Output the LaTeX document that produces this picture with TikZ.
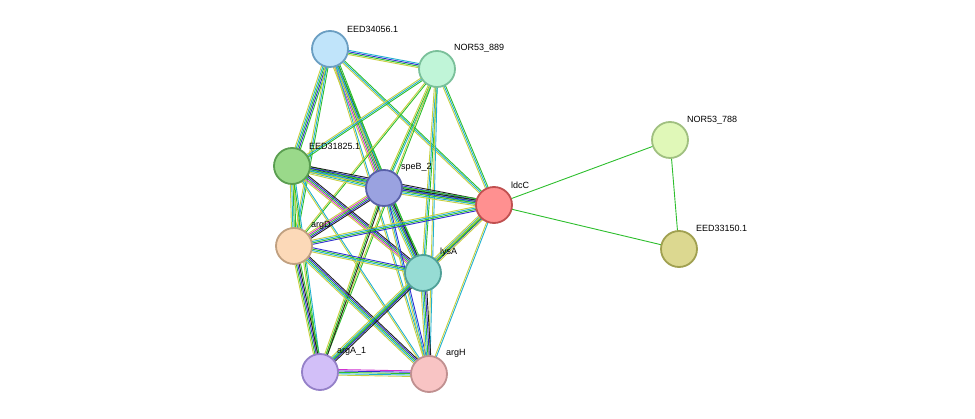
\documentclass[tikz,border=0pt]{standalone}
\usepackage{fontspec}
\setmainfont{Liberation Sans}
\usetikzlibrary{calc}
\definecolor{cg}{HTML}{2DBE2D}
\definecolor{cb}{HTML}{3030D0}
\definecolor{cc}{HTML}{20B0D0}
\definecolor{cy}{HTML}{C8D040}
\definecolor{ck}{HTML}{202020}
\definecolor{cmag}{HTML}{D030D0}
\newcommand\sedge[3]{%
  \foreach \c [count=\i] in {#3}{\xdef\nn{\i}}%
  \foreach \c [count=\i] in {#3}{%
    \pgfmathsetmacro\o{(\i-1)*1.4-(\nn-1)*0.7}%
    \draw[color=\c,line width=0.9pt] ($(#1)!\o pt!90:(#2)$) -- ($(#2)!\o pt!-90:(#1)$);}}
\tikzset{nd/.style={circle,minimum size=36pt,line width=1.8pt,inner sep=0pt},
 lb/.style={font=\fontsize{9}{10}\selectfont,anchor=south west,inner sep=1pt}}
\begin{document}
\begin{tikzpicture}[x=1pt,y=-1pt]
\useasboundingbox (0,0) rectangle (975,419);
\coordinate (a) at (330,49);
\coordinate (b) at (437,69);
\coordinate (c) at (292,166);
\coordinate (d) at (384,188);
\coordinate (e) at (494,205);
\coordinate (f) at (294,246);
\coordinate (g) at (423,273);
\coordinate (h) at (320,372);
\coordinate (i) at (429,374);
\coordinate (j) at (670,140);
\coordinate (k) at (679,249);
\sedge{a}{b}{cy,cg,cb,cc}
\sedge{a}{c}{cy,cc,cg,cb,cg}
\sedge{a}{d}{cy,cmag,cg,cb,ck,cg}
\sedge{a}{e}{cy,cc,cg}
\sedge{a}{f}{cy,cc,cg}
\sedge{a}{g}{cy,cc,cg}
\sedge{a}{i}{cy,cc}
\sedge{b}{c}{cy,cc,cg}
\sedge{b}{d}{cy,cg,cc}
\sedge{b}{e}{cy,cc,cg}
\sedge{b}{f}{cy,cg}
\sedge{b}{g}{cy,cc,cg}
\sedge{b}{h}{cy,cg}
\sedge{b}{i}{cy,cc}
\sedge{c}{d}{cy,cc,cg,cb,ck,cg}
\sedge{c}{e}{cy,cc,cg,cb,ck}
\sedge{c}{f}{cy,cc,cg,cg}
\sedge{c}{g}{cy,cmag,cg,cb,ck}
\sedge{c}{h}{cy,cg,cc}
\sedge{c}{i}{cy,cc}
\sedge{d}{e}{cy,cc,cg,cb,ck,cg}
\sedge{d}{f}{cy,cmag,cg,cb,ck}
\sedge{d}{g}{cy,cc,cg,cb,ck,cg}
\sedge{d}{h}{cy,cg,ck}
\sedge{d}{i}{cy,cc,cb}
\sedge{e}{f}{cy,cc,cg,cb}
\sedge{e}{g}{cy,cc,cg,cb,cy}
\sedge{e}{h}{cy,cg}
\sedge{e}{i}{cy,cc}
\sedge{f}{g}{cy,cc,cg,cb}
\sedge{f}{h}{cy,cg,cb,ck,cg}
\sedge{f}{i}{cy,cc,cg,cb,ck}
\sedge{g}{h}{cy,cc,cg,cb,ck}
\sedge{g}{i}{cy,cc,cg,cb,ck}
\sedge{h}{i}{cy,cc,cg,cb,cmag}
\sedge{e}{j}{cg}
\sedge{e}{k}{cg}
\sedge{j}{k}{cg}
\node[nd,fill={rgb,255:red,192;green,228;blue,250},draw={rgb,255:red,106;green,158;blue,194}] (na) at (a) {};
\node[nd,fill={rgb,255:red,192;green,245;blue,216},draw={rgb,255:red,122;green,192;blue,154}] (nb) at (b) {};
\node[nd,fill={rgb,255:red,154;green,217;blue,138},draw={rgb,255:red,90;green,158;blue,80}] (nc) at (c) {};
\node[nd,fill={rgb,255:red,154;green,162;blue,224},draw={rgb,255:red,88;green,96;blue,168}] (nd) at (d) {};
\node[nd,fill={rgb,255:red,255;green,144;blue,144},draw={rgb,255:red,192;green,80;blue,80}] (ne) at (e) {};
\node[nd,fill={rgb,255:red,252;green,217;blue,184},draw={rgb,255:red,192;green,160;blue,128}] (nf) at (f) {};
\node[nd,fill={rgb,255:red,150;green,220;blue,212},draw={rgb,255:red,80;green,160;blue,152}] (ng) at (g) {};
\node[nd,fill={rgb,255:red,210;green,191;blue,248},draw={rgb,255:red,148;green,128;blue,200}] (nh) at (h) {};
\node[nd,fill={rgb,255:red,248;green,196;blue,196},draw={rgb,255:red,192;green,144;blue,144}] (ni) at (i) {};
\node[nd,fill={rgb,255:red,224;green,248;blue,184},draw={rgb,255:red,160;green,192;blue,128}] (nj) at (j) {};
\node[nd,fill={rgb,255:red,220;green,216;blue,144},draw={rgb,255:red,160;green,160;blue,80}] (nk) at (k) {};
\node[lb] (la) at (346,34) {EED34056.1};
\node[lb] (lb) at (453,53) {NOR53\_889};
\node[lb] (lc) at (308,151) {EED31825.1};
\node[lb] (ld) at (400,173) {speB\_2};
\node[lb] (le) at (510,190) {ldcC};
\node[lb] (lf) at (310,231) {argD};
\node[lb] (lg) at (439,258) {lysA};
\node[lb] (lh) at (336,357) {argA\_1};
\node[lb] (li) at (445,359) {argH};
\node[lb] (lj) at (686,125) {NOR53\_788};
\node[lb] (lk) at (695,233) {EED33150.1};
\end{tikzpicture}
\end{document}
